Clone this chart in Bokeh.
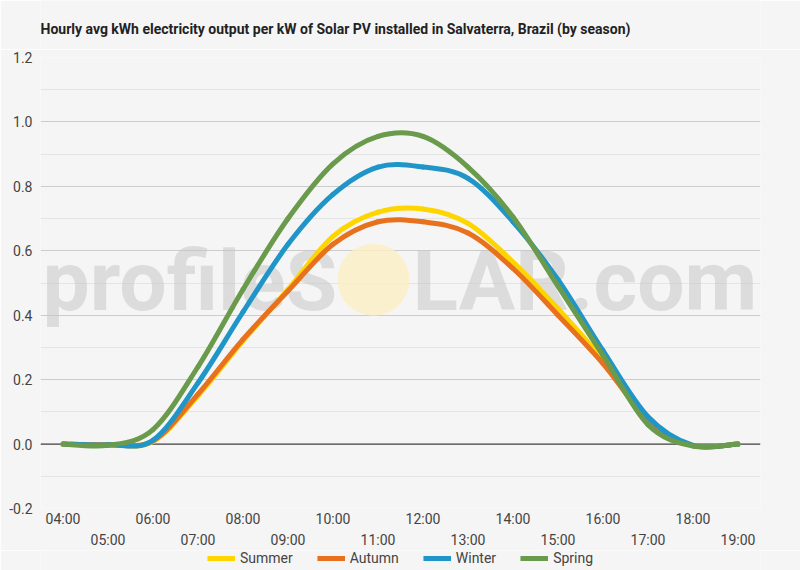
from bokeh.plotting import figure
from bokeh.layouts import column
from bokeh.models import (Range1d, FixedTicker, LinearAxis, Span, Label,
                          Legend, LegendItem, ColumnDataSource)
from bokeh.embed import file_html
from bokeh.resources import INLINE

# hourly values, kWh per kW installed
hours = [4, 5, 6, 7, 8, 9, 10, 11, 12, 13, 14, 15, 16, 17, 18, 19]
hour_labels = ["04:00", "05:00", "06:00", "07:00", "08:00", "09:00", "10:00", "11:00",
               "12:00", "13:00", "14:00", "15:00", "16:00", "17:00", "18:00", "19:00"]
summer = [0.0, -0.002, 0.008, 0.15, 0.32, 0.48, 0.645, 0.72, 0.73, 0.685, 0.565, 0.42, 0.26, 0.07, -0.005, 0.0]
autumn = [0.0, -0.002, 0.01, 0.155, 0.325, 0.475, 0.62, 0.69, 0.69, 0.655, 0.545, 0.40, 0.25, 0.075, -0.005, 0.0]
winter = [0.0, -0.002, 0.012, 0.19, 0.41, 0.62, 0.775, 0.86, 0.86, 0.825, 0.69, 0.51, 0.29, 0.085, -0.004, 0.0]
spring = [0.0, -0.004, 0.045, 0.24, 0.48, 0.70, 0.87, 0.955, 0.955, 0.86, 0.705, 0.49, 0.275, 0.06, -0.006, 0.0]

seasons = ["Summer", "Autumn", "Winter", "Spring"]
colors = {"Summer": "#FFD500", "Autumn": "#E8711E", "Winter": "#1F95C8", "Spring": "#6A9A4B"}
series = {"Summer": summer, "Autumn": autumn, "Winter": winter, "Spring": spring}

y_ticks = [-0.2, 0.0, 0.2, 0.4, 0.6, 0.8, 1.0, 1.2]
y_minor = [-0.1, 0.1, 0.3, 0.5, 0.7, 0.9, 1.1]

TITLE = "Hourly avg kWh electricity output per kW of Solar PV installed in Salvaterra, Brazil (by season)"
TEXT = "#444444"
FONT = "Roboto"
BG = "#f5f5f5"


def smooth_segments(xs, ys):
    # bezier control points so the line is drawn smooth through every hour
    n = len(xs)
    d = dict(x0=[], y0=[], x1=[], y1=[], cx0=[], cy0=[], cx1=[], cy1=[])
    for i in range(n - 1):
        a = max(i - 1, 0)
        b = min(i + 2, n - 1)
        d["x0"].append(xs[i]); d["y0"].append(ys[i])
        d["x1"].append(xs[i + 1]); d["y1"].append(ys[i + 1])
        d["cx0"].append(xs[i] + (xs[i + 1] - xs[a]) / 6.0)
        d["cy0"].append(ys[i] + (ys[i + 1] - ys[a]) / 6.0)
        d["cx1"].append(xs[i + 1] - (xs[b] - xs[i]) / 6.0)
        d["cy1"].append(ys[i + 1] - (ys[b] - ys[i]) / 6.0)
    return ColumnDataSource(d)


def strip(height):
    # plain band with no axes, used for the title and the legend
    s = figure(width=800, height=height, x_range=Range1d(0, 800), y_range=Range1d(0, height),
               output_backend="svg", toolbar_location=None,
               x_axis_type=None, y_axis_type=None,
               min_border_left=0, min_border_right=0, min_border_top=0, min_border_bottom=0)
    s.background_fill_color = BG
    s.border_fill_color = BG
    s.outline_line_color = None
    s.grid.grid_line_color = None
    return s


# title band
top = strip(49)
top.add_layout(Label(x=0, y=21, text=TITLE, text_font=FONT, text_font_style="bold",
                     text_font_size="14px", text_color="#222222", text_baseline="middle"))

p = figure(width=800, height=501,
           x_range=Range1d(3.5, 19.5), y_range=Range1d(-0.2, 1.2),
           output_backend="svg", toolbar_location=None,
           min_border_left=40, min_border_right=40,
           min_border_top=8, min_border_bottom=38)
p.background_fill_color = BG
p.border_fill_color = BG
p.outline_line_color = None

# y axis and grid
p.yaxis.ticker = FixedTicker(ticks=y_ticks, minor_ticks=y_minor)
p.yaxis.major_label_overrides = {t: "%.1f" % t for t in y_ticks}
p.yaxis.axis_line_color = None
p.yaxis.major_tick_line_color = None
p.yaxis.minor_tick_line_color = None
p.yaxis.major_tick_out = 0
p.yaxis.minor_tick_out = 0
p.yaxis.major_label_standoff = 8
p.yaxis.major_label_text_font = FONT
p.yaxis.major_label_text_font_size = "14px"
p.yaxis.major_label_text_color = TEXT
p.ygrid.grid_line_color = "#cccccc"
p.ygrid.minor_grid_line_color = "#e4e4e4"
p.xgrid.grid_line_color = None

# two rows of hour labels
even = hours[0::2]
odd = hours[1::2]
p.xaxis.ticker = FixedTicker(ticks=even, minor_ticks=[])
p.xaxis.major_label_overrides = {h: hour_labels[hours.index(h)] for h in even}
ax2 = LinearAxis(ticker=FixedTicker(ticks=odd, minor_ticks=[]),
                 major_label_overrides={h: hour_labels[hours.index(h)] for h in odd})
p.add_layout(ax2, "below")
for ax in [p.xaxis[0], ax2]:
    ax.axis_line_color = None
    ax.major_tick_line_color = None
    ax.minor_tick_line_color = None
    ax.major_tick_out = 0
    ax.major_tick_in = 0
    ax.minor_tick_out = 0
    ax.major_label_standoff = 2
    ax.major_label_text_font = FONT
    ax.major_label_text_font_size = "14px"
    ax.major_label_text_color = TEXT

# watermark
p.add_layout(Label(x=3.545, y=0.505, text="profileS", text_font=FONT, text_font_style="bold",
                   text_font_size="84px", text_color="#c4c4c4", text_alpha=0.5,
                   text_baseline="alphabetic", level="underlay"))
p.add_layout(Label(x=19.43, y=0.505, text="LAR.com", text_font=FONT, text_font_style="bold",
                   text_font_size="84px", text_color="#c4c4c4", text_alpha=0.5,
                   text_align="right", text_baseline="alphabetic", level="underlay"))
p.scatter(x=[10.9], y=[0.51], size=72, marker="circle",
          fill_color="#fcefc4", fill_alpha=0.8, line_color=None)

p.add_layout(Span(location=0, dimension="width", line_color="#222222",
                  line_width=1, level="underlay"))

for s in seasons:
    p.bezier(x0="x0", y0="y0", x1="x1", y1="y1", cx0="cx0", cy0="cy0",
             cx1="cx1", cy1="cy1", source=smooth_segments(hours, series[s]),
             line_color=colors[s], line_width=5, line_cap="round")

# legend band under the chart
lg = strip(20)
items = []
for s in seasons:
    # keyed line kept off the visible range, only its swatch shows
    r = lg.line(x=[-30, -20], y=[-30, -30], line_color=colors[s], line_width=5)
    items.append(LegendItem(label=s, renderers=[r]))
legend = Legend(items=items, orientation="horizontal", location="top_center",
                glyph_width=28, glyph_height=16, label_height=16,
                label_standoff=5, spacing=24, padding=0, margin=0,
                border_line_color=None, background_fill_alpha=0,
                label_text_font=FONT, label_text_font_size="14px",
                label_text_color=TEXT)
lg.add_layout(legend, "center")

open("out.html", "w").write(file_html(column(top, p, lg), INLINE))
